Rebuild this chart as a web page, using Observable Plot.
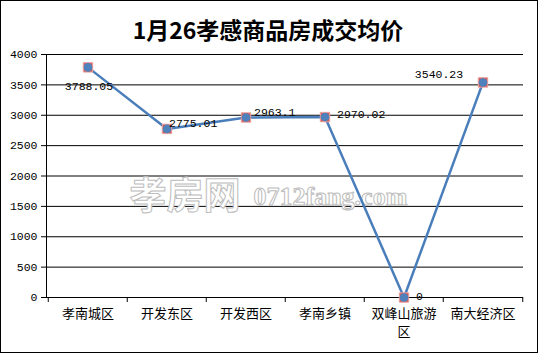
<!DOCTYPE html>
<html>
<head>
<meta charset="utf-8">
<script src="https://cdn.jsdelivr.net/npm/d3@7"></script>
<script src="https://cdn.jsdelivr.net/npm/@observablehq/plot@0.6"></script>
<style>
  html, body { margin: 0; padding: 0; background: #fff; }
  #chart { width: 536px; height: 351px; border: 1px solid #000; background: #fff; }
  #chart svg { display: block; }
</style>
</head>
<body>
<div id="chart"></div>
<script>
const titleText = "1月26孝感商品房成交均价";
const categories = ["孝南城区", "开发东区", "开发西区", "孝南乡镇", "双峰山旅游区", "南大经济区"];
const prices = [3788.05, 2775.01, 2963.1, 2970.02, 0, 3540.23];
const priceLabels = ["3788.05", "2775.01", "2963.1", "2970.02", "0", "3540.23"];
const yTicks = [0, 500, 1000, 1500, 2000, 2500, 3000, 3500, 4000];
const watermark = ["孝房网", "0712fang.com"];

// label placement (styling only): [dx, dy, anchor]
const labelPlacement = [
  [1, 19, "middle"],
  [2, -6, "start"],
  [8, -5, "start"],
  [12, -3, "start"],
  [12, -1.5, "start"],
  [-44, -8, "middle"]
];

const data = categories.map((c, i) => ({cat: c, price: prices[i], label: priceLabels[i], i}));

const W = 536, H = 351;
const mL = 45, mR = 14, mT = 53, mB = 55;
const bw = (W - mL - mR) / categories.length;
const monoFont = "'Liberation Mono', 'DejaVu Sans Mono', monospace";
const cjkFont = "'Noto Sans CJK SC', sans-serif";

const labelMarks = data.map((d, k) => Plot.text([d], {
  x: "cat", y: "price", text: "label",
  dx: labelPlacement[k][0], dy: labelPlacement[k][1],
  textAnchor: labelPlacement[k][2],
  fontSize: 11.5, fontFamily: monoFont, fill: "#000"
}));

const chart = Plot.plot({
  width: W, height: H,
  marginLeft: mL, marginRight: mR, marginTop: mT, marginBottom: mB,
  style: {background: "#fff", overflow: "visible"},
  x: {type: "band", domain: categories, padding: 0, axis: null},
  y: {domain: [0, 4000], axis: null},
  marks: [
    Plot.ruleY(yTicks, {stroke: "#000", strokeWidth: 1}),
    Plot.frame({anchor: "left", stroke: "#000"}),
    // watermark
    Plot.text([watermark[0]], {frameAnchor: "left", dx: 83, dy: 21, textAnchor: "start", lineAnchor: "middle",
      fontSize: 37, fontWeight: 700, fontFamily: cjkFont, fill: "#fff", stroke: "#bcbcbc", strokeWidth: 1, paintOrder: "fill"}),
    Plot.text([watermark[1]], {frameAnchor: "left", dx: 207, dy: 21, textAnchor: "start", lineAnchor: "middle",
      fontSize: 26, fontWeight: "bold", fontFamily: "'Liberation Serif', serif", fill: "#fff", stroke: "#bcbcbc", strokeWidth: 1, paintOrder: "fill"}),
    // x axis boundary ticks
    Plot.ruleX(categories, {x: d => d, dx: -bw / 2, insetTop: H - mT - mB, insetBottom: -5, stroke: "#000"}),
    Plot.ruleX(categories.slice(-1), {x: d => d, dx: bw / 2, insetTop: H - mT - mB, insetBottom: -5, stroke: "#000"}),
    Plot.axisX({tickSize: 0, tickPadding: 8, fontSize: 13, fontFamily: cjkFont, fill: "#000", label: null,
      tickFormat: d => d.length > 5 ? d.slice(0, 5) + "\n" + d.slice(5) : d, lineHeight: 1.35}),
    Plot.axisY({ticks: yTicks, tickSize: 5, tickPadding: 4, fontSize: 11.5, fontFamily: monoFont, label: null,
      tickFormat: d => String(d), stroke: "#000", fill: "#000"}),
    // series
    Plot.line(data, {x: "cat", y: "price", stroke: "#4a7ebb", strokeWidth: 2.5}),
    Plot.dot(data, {x: "cat", y: "price", symbol: "square", r: 5.3, fill: "#d25c59", stroke: "#eaa09e", strokeWidth: 1}),
    Plot.dot(data, {x: "cat", y: "price", r: 4.3, fill: "#4f81bd", stroke: "none"}),
    ...labelMarks,
    // title
    Plot.text([titleText], {frameAnchor: "top", dx: -17, dy: -22.5, lineAnchor: "middle",
      fontSize: 23, fontWeight: "bold", fontFamily: cjkFont, fill: "#000"})
  ]
});
document.getElementById("chart").appendChild(chart);
</script>
</body>
</html>
